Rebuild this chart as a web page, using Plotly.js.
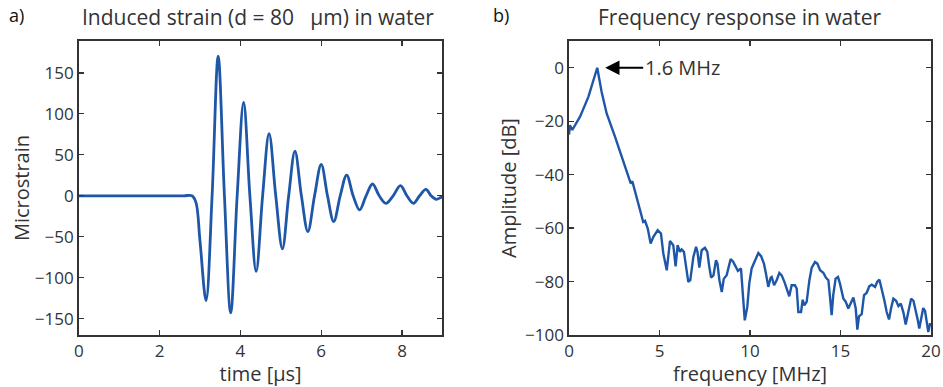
<!DOCTYPE html>
<html>
<head>
<meta charset="utf-8">
<script src="https://cdn.plot.ly/plotly-3.0.1.min.js"></script>
<style>html,body{margin:0;padding:0;background:#fff;}#chart{width:943px;height:387px;}</style>
</head>
<body>
<div id="chart"></div>
<script>
// Panel a) induced strain vs time (extrema and zero crossings read from the picture)
var timeUs = [0, 1.0, 2.0, 2.6, 2.8, 2.9, 3.0, 3.15, 3.30, 3.45, 3.605, 3.76, 3.92, 4.08, 4.235, 4.39, 4.55, 4.71, 4.875, 5.04, 5.195, 5.35, 5.51, 5.67, 5.835, 6.0, 6.155, 6.31, 6.47, 6.63, 6.79, 6.95, 7.11, 7.27, 7.435, 7.6, 7.78, 7.96, 8.12, 8.28, 8.435, 8.59, 8.72, 8.85, 8.96, 9.0];
var microstrain = [0, 0, 0, 0, 0, -8, -55, -128, 0, 170.6, 0, -143, 0, 113.9, 0, -92.4, 0, 76, 0, -64.8, 0, 54.5, 0, -43.7, 0, 38.3, 0, -31.5, 0, 25.3, 0, -17.3, 0, 14.4, 0, -9.2, 0, 12.3, 0, -9.2, 0, 7.9, 0, -4.3, -2, -1.5];

// Panel b) frequency response
var freqMHz = [0, 0.05, 0.18, 0.61, 1.07, 1.34, 1.56, 1.8, 2.08, 2.54, 2.82, 3.09, 3.41, 3.5, 3.74, 3.92, 4.1, 4.2, 4.35, 4.51, 4.66, 4.9, 5.08, 5.21, 5.4, 5.58, 5.76, 5.89, 6.0, 6.13, 6.22, 6.35, 6.45, 6.59, 6.7, 6.87, 7.02, 7.1, 7.2, 7.33, 7.51, 7.64, 7.75, 7.85, 7.98, 8.12, 8.2, 8.31, 8.44, 8.55, 8.71, 8.93, 9.06, 9.23, 9.33, 9.5, 9.59, 9.71, 9.85, 9.96, 10.09, 10.24, 10.33, 10.46, 10.61, 10.77, 10.88, 11.01, 11.14, 11.2, 11.33, 11.47, 11.62, 11.75, 11.9, 12.03, 12.17, 12.3, 12.48, 12.58, 12.67, 12.82, 12.91, 13.0, 13.13, 13.28, 13.41, 13.59, 13.72, 13.87, 14.05, 14.2, 14.33, 14.42, 14.51, 14.6, 14.73, 14.86, 14.97, 15.16, 15.29, 15.43, 15.56, 15.71, 15.84, 15.93, 16.02, 16.17, 16.3, 16.44, 16.59, 16.72, 16.91, 17.03, 17.15, 17.28, 17.42, 17.55, 17.68, 17.79, 17.92, 18.07, 18.2, 18.33, 18.48, 18.6, 18.75, 18.9, 19.03, 19.16, 19.27, 19.35, 19.46, 19.57, 19.67, 19.76, 19.85, 19.94, 20.0];
var amplitudeDb = [-25, -21.5, -23.3, -18.3, -10.9, -5.2, 0, -9, -17.1, -25.8, -31.5, -36.4, -43.3, -42.5, -48.9, -52.7, -57.7, -57.3, -60.2, -65.8, -63.3, -60.8, -62, -69.5, -75.8, -64.8, -66.4, -74.3, -66.4, -68.9, -68, -68.9, -74.5, -80.1, -79.5, -70.8, -67, -69, -74.8, -68.3, -67.4, -68.9, -74.5, -78.5, -77.7, -72, -73.3, -79.5, -83.9, -79, -77.6, -71.6, -72.5, -75.1, -76, -75.1, -83.6, -94.5, -89.5, -80.7, -75.1, -72.6, -71.8, -69.3, -70.5, -73.3, -77, -82, -78.6, -78.3, -81.4, -79.5, -76.8, -77.7, -80.1, -82.6, -85.5, -81.4, -81.4, -82.6, -91.4, -91.4, -86.8, -88.9, -87.6, -79.5, -74.8, -72.7, -73.3, -75.8, -76.7, -78.6, -79.5, -85.8, -92.6, -85, -78.9, -78.3, -80.8, -86.4, -87.6, -90.1, -88, -86, -90.1, -98, -93, -92.2, -85.1, -84.3, -81.8, -81.2, -82, -80.1, -79.3, -82.6, -87, -91.4, -94.2, -90.1, -86.4, -87.2, -89.2, -88.2, -91.7, -96.1, -91.4, -86.4, -87.2, -90.6, -94.5, -97.6, -93.8, -89.9, -91, -94.5, -98.9, -96, -96];

var xTicksA = [0, 2, 4, 6, 8];
var yTicksA = [-150, -100, -50, 0, 50, 100, 150];
var xTicksB = [0, 5, 10, 15, 20];
var yTicksB = [-100, -80, -60, -40, -20, 0];

var lineColor = '#1f57a8';
var axisColor = '#333333';
var FONT = 'Open Sans, Noto Sans, sans-serif';

var traces = [
  {x: timeUs, y: microstrain, type: 'scatter', mode: 'lines', xaxis: 'x', yaxis: 'y',
   line: {color: lineColor, width: 2.8, shape: 'spline', smoothing: 1.0}, hoverinfo: 'skip'},
  {x: freqMHz, y: amplitudeDb, type: 'scatter', mode: 'lines', xaxis: 'x2', yaxis: 'y2',
   line: {color: lineColor, width: 2.4}, hoverinfo: 'skip'}
];

function axisBase(extra) {
  var a = {showline: true, mirror: 'ticks', linecolor: axisColor, linewidth: 1.6,
    ticks: 'inside', ticklen: 5, tickwidth: 1.2, tickcolor: axisColor, showgrid: false, zeroline: false,
    tickfont: {family: FONT, size: 17, color: axisColor}, fixedrange: true};
  for (var k in extra) a[k] = extra[k];
  return a;
}
var titleFont = {family: FONT, size: 20, color: axisColor};

var layout = {
  width: 943, height: 387,
  margin: {l: 0, r: 0, t: 41, b: 52},
  paper_bgcolor: '#ffffff', plot_bgcolor: '#ffffff',
  showlegend: false,
  font: {family: FONT, color: axisColor},
  xaxis: axisBase({domain: [0.0835, 0.4692], range: [0, 9], tickvals: xTicksA, anchor: 'y',
    title: {text: 'time [μs]', font: titleFont, standoff: 1}}),
  yaxis: axisBase({domain: [0, 1], range: [-170, 189], tickvals: yTicksA, anchor: 'x',
    title: {text: 'Microstrain', font: titleFont, standoff: 0}}),
  xaxis2: axisBase({domain: [0.6034, 0.9873], range: [0, 20], tickvals: xTicksB, anchor: 'y2',
    title: {text: 'frequency [MHz]', font: titleFont, standoff: 1}}),
  yaxis2: axisBase({domain: [0, 1], range: [-100, 10], tickvals: yTicksB, anchor: 'x2',
    title: {text: 'Amplitude [dB]', font: titleFont, standoff: 3}}),
  annotations: [
    {xref: 'paper', yref: 'paper', x: 0.2735, y: 1.0, yshift: 24, yanchor: 'middle', xanchor: 'center',
     text: 'Induced strain (d = 80 &nbsp; μm) in water', showarrow: false,
     font: {family: FONT, size: 21, color: axisColor}},
    {xref: 'paper', yref: 'paper', x: 0.784, y: 1.0, yshift: 24, yanchor: 'middle', xanchor: 'center',
     text: 'Frequency response in water', showarrow: false,
     font: {family: FONT, size: 21, color: axisColor}},
    {xref: 'paper', yref: 'paper', x: 0.007, y: 1.0, yshift: 26, yanchor: 'middle', xanchor: 'left',
     text: 'a)', showarrow: false, font: {family: FONT, size: 18, color: '#111'}},
    {xref: 'paper', yref: 'paper', x: 0.521, y: 1.0, yshift: 26, yanchor: 'middle', xanchor: 'left',
     text: 'b)', showarrow: false, font: {family: FONT, size: 18, color: '#111'}},
    {xref: 'x2', yref: 'y2', x: 2.0, y: 0, ax: 38, ay: 0, axref: 'pixel', ayref: 'pixel',
     text: '1.6 MHz', xanchor: 'left', showarrow: true, arrowhead: 2, arrowsize: 1.3, arrowwidth: 2.2,
     arrowcolor: '#000', font: {family: FONT, size: 20, color: axisColor}}
  ]
};

Plotly.newPlot('chart', traces, layout, {displayModeBar: false, staticPlot: true});
</script>
</body>
</html>
